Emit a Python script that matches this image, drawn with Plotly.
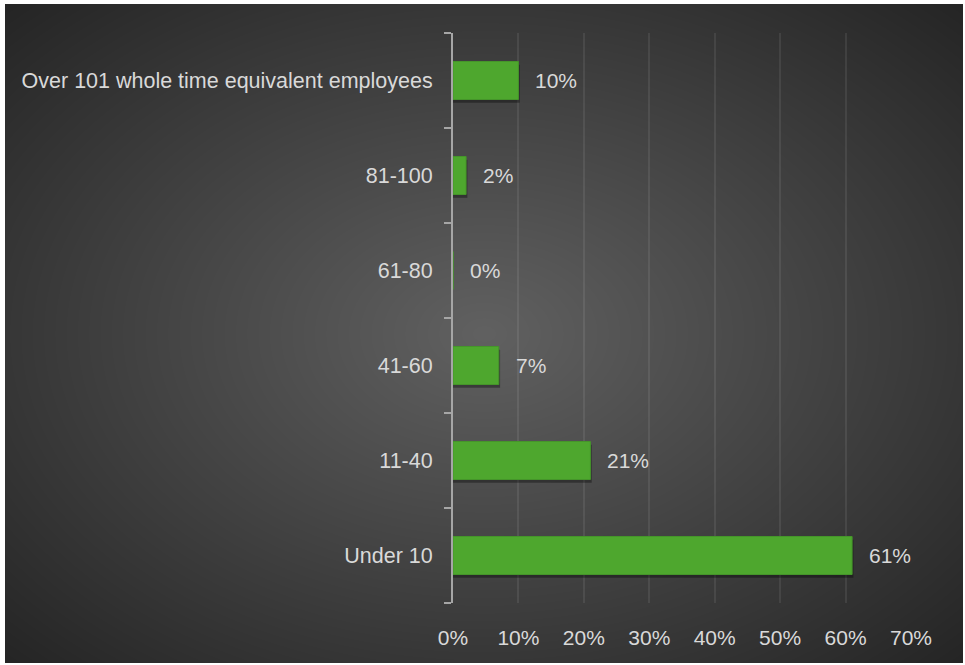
import base64
import struct
import zlib

import numpy as np
import plotly.graph_objects as go

# Survey answers: share of respondents by organisation size
categories = [
    "Under 10",
    "11-40",
    "41-60",
    "61-80",
    "81-100",
    "Over 101 whole time equivalent employees",
]
shares = [0.61, 0.21, 0.07, 0.00, 0.02, 0.10]
x_ticks = [0.0, 0.1, 0.2, 0.3, 0.4, 0.5, 0.6, 0.7]
x_tick_labels = ["0%", "10%", "20%", "30%", "40%", "50%", "60%", "70%"]

W, H = 965, 665
BAR_GREEN = "#4EA72E"
TEXT_GREY = "#D9D9D9"
FONT = "Liberation Sans"


def radial_png(width, height, inner=97, outer=37):
    """Dark radial gradient (lighter centre) encoded as a PNG data URI."""
    yy, xx = np.mgrid[0:height, 0:width].astype(float)
    dx = (xx - width / 2) / (width / 2)
    dy = (yy - height / 2) / (height / 2)
    r = np.sqrt(dx ** 2 + dy ** 2) / np.sqrt(2)
    v = np.clip(inner - (inner - outer) * r, 0, 255).astype(np.uint8)
    rgb = np.repeat(v[:, :, None], 3, axis=2)
    raw = b"".join(b"\x00" + rgb[i].tobytes() for i in range(height))

    def chunk(tag, data):
        c = struct.pack(">I", len(data)) + tag + data
        return c + struct.pack(">I", zlib.crc32(tag + data) & 0xFFFFFFFF)

    png = b"\x89PNG\r\n\x1a\n"
    png += chunk(b"IHDR", struct.pack(">IIBBBBB", width, height, 8, 2, 0, 0, 0))
    png += chunk(b"IDAT", zlib.compress(raw, 9))
    png += chunk(b"IEND", b"")
    return "data:image/png;base64," + base64.b64encode(png).decode()


bg_w, bg_h = 958, 659
background = radial_png(bg_w, bg_h)

fig = go.Figure()

# soft drop shadow under each bar
fig.add_trace(
    go.Bar(
        y=categories,
        x=[s + 0.002 if s > 0 else 0 for s in shares],
        orientation="h",
        width=0.4,
        offset=-0.235,
        marker=dict(color="rgba(0,0,0,0.35)", line=dict(width=0)),
        hoverinfo="skip",
        showlegend=False,
    )
)

fig.add_trace(
    go.Bar(
        y=categories,
        x=shares,
        orientation="h",
        width=0.4,
        offset=-0.2,
        marker=dict(color=BAR_GREEN, line=dict(color="#45952A", width=1)),
        showlegend=False,
    )
)

# value labels just past the end of each bar
for cat, val in zip(categories, shares):
    fig.add_annotation(
        x=val,
        y=cat,
        text=f"{val * 100:.0f}%",
        xanchor="left",
        yanchor="middle",
        xshift=15,
        showarrow=False,
        font=dict(family=FONT, size=21, color=TEXT_GREY),
    )

fig.add_layout_image(
    dict(
        source=background,
        xref="paper",
        yref="paper",
        x=(5 - 453) / (911 - 453),
        y=1 + 29 / 570,
        sizex=bg_w / (911 - 453),
        sizey=bg_h / 570,
        xanchor="left",
        yanchor="top",
        sizing="stretch",
        layer="below",
    )
)

fig.update_layout(
    width=W,
    height=H,
    margin=dict(l=453, r=54, t=33, b=62),
    paper_bgcolor="white",
    plot_bgcolor="rgba(0,0,0,0)",
    barmode="overlay",
    font=dict(family=FONT, size=21, color=TEXT_GREY),
    xaxis=dict(
        range=[0, 0.7],
        tickvals=x_ticks,
        ticktext=x_tick_labels,
        showgrid=True,
        gridcolor="rgba(255,255,255,0.08)",
        gridwidth=1.5,
        zeroline=False,
        showline=False,
        ticks="outside",
        ticklen=16,
        tickcolor="rgba(0,0,0,0)",
        tickfont=dict(family=FONT, size=21, color=TEXT_GREY),
        fixedrange=True,
    ),
    yaxis=dict(
        type="category",
        categoryorder="array",
        categoryarray=categories,
        tickson="boundaries",
        ticks="outside",
        ticklen=7,
        tickwidth=2,
        tickcolor="#A6A6A6",
        showline=True,
        linecolor="#A6A6A6",
        linewidth=2,
        showgrid=False,
        zeroline=False,
        ticklabelstandoff=14,
        tickfont=dict(family=FONT, size=21.5, color=TEXT_GREY),
        fixedrange=True,
    ),
)

fig.write_html("out.html")
